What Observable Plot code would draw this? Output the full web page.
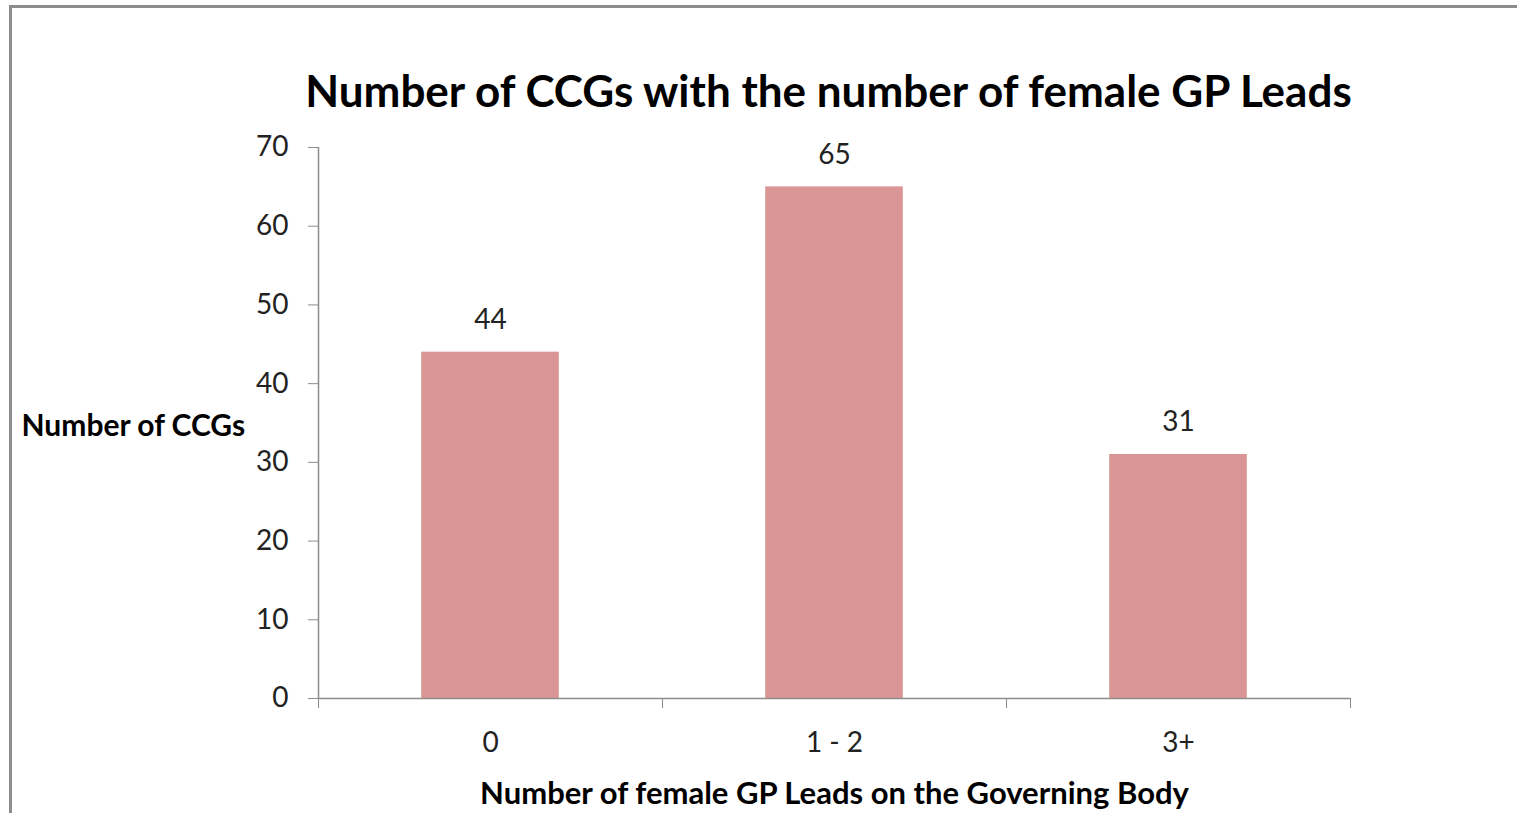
<!DOCTYPE html>
<html>
<head>
<meta charset="utf-8">
<script src="https://cdn.jsdelivr.net/npm/d3@7"></script>
<script src="https://cdn.jsdelivr.net/npm/@observablehq/plot@0.6"></script>
<style>
  html, body { margin: 0; padding: 0; background: #fff; overflow: hidden; }
  #wrap { position: relative; width: 1517px; height: 813px; }
  #frame { position: absolute; left: 9px; top: 5px; width: 1600px; height: 900px;
           border-left: 3px solid #8c8c8c; border-top: 3px solid #8c8c8c; box-sizing: border-box; }
  #chart { position: absolute; left: 0; top: 0; }
</style>
</head>
<body>
<div id="wrap"><div id="frame"></div><div id="chart"></div></div>
<script>
const categories = ["0", "1 - 2", "3+"];
const counts = [44, 65, 31];
const yTicks = [0, 10, 20, 30, 40, 50, 60, 70];
const title = "Number of CCGs with the number of female GP Leads";
const yLabel = "Number of CCGs";
const xLabel = "Number of female GP Leads on the Governing Body";

const data = categories.map((c, i) => ({ i, category: c, value: counts[i] }));
const boundaries = d3.range(categories.length + 1).map(k => k - 0.5);

const font = "Lato, 'Open Sans', sans-serif";
const axisColor = "#8c8c8c";

const chart = Plot.plot({
  width: 1517,
  height: 813,
  marginLeft: 318,
  marginRight: 167,
  marginTop: 147,
  marginBottom: 115,
  style: { fontFamily: font, fontSize: "28px", color: "#222", background: "transparent" },
  x: { domain: [-0.5, categories.length - 0.5] },
  y: { domain: [0, 70] },
  marks: [
    Plot.rectY(data, { x1: d => d.i - 0.2, x2: d => d.i + 0.2, y: "value", fill: "#d99694" }),
    Plot.ruleY([0], { stroke: axisColor, strokeWidth: 1.5 }),
    Plot.ruleX([-0.5], { stroke: axisColor, strokeWidth: 1.5 }),
    Plot.axisY({ ticks: yTicks, tickSize: 10, tickPadding: 20, stroke: axisColor, strokeOpacity: 1, label: null,
                 fill: "#222", fontSize: 28 }),
    Plot.axisX({ ticks: boundaries, tickSize: 10, tickFormat: () => "", stroke: axisColor, strokeOpacity: 1, label: null }),
    Plot.axisX({ ticks: data.map(d => d.i), tickSize: 0, tickPadding: 34, tickFormat: i => categories[i],
                 label: null, fill: "#222", fontSize: 28 }),
    Plot.text(data, { x: "i", y: "value", text: d => String(d.value), lineAnchor: "bottom", dy: -23,
                      fill: "#222", fontSize: 28 }),
    Plot.text([title], { frameAnchor: "top", dx: -6, dy: -55, lineAnchor: "middle", fontWeight: "bold", fontSize: 44, fill: "#000" }),
    Plot.text([yLabel], { frameAnchor: "left", dx: -297, dy: 3, textAnchor: "start", fontWeight: "bold", fontSize: 30, fill: "#000" }),
    Plot.text([xLabel], { frameAnchor: "bottom", dy: 96, lineAnchor: "middle", fontWeight: "bold", fontSize: 31, fill: "#000" })
  ]
});
document.getElementById("chart").appendChild(chart);
</script>
</body>
</html>
